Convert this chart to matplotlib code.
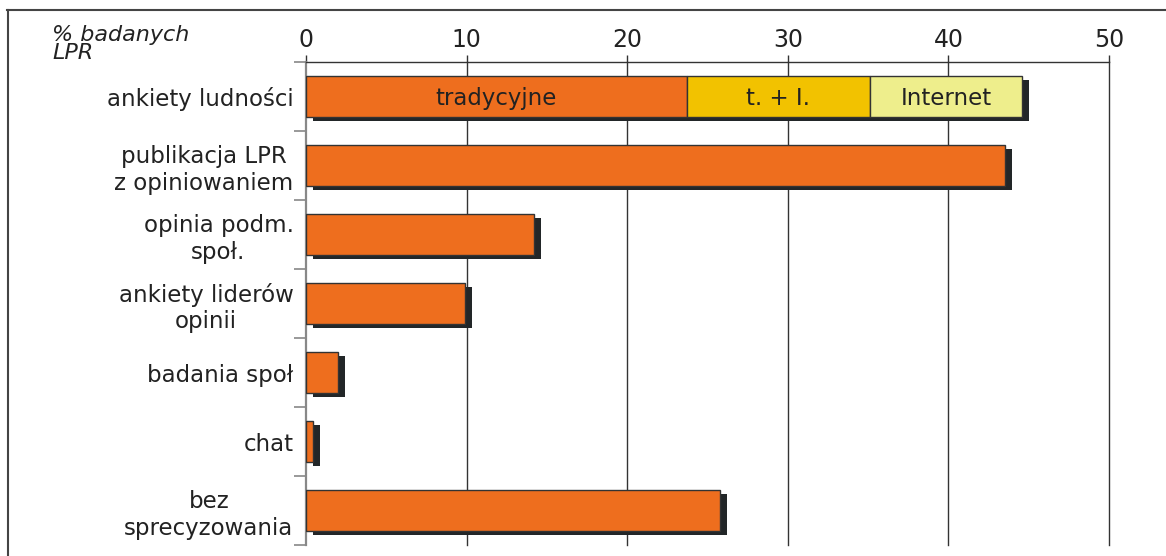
import matplotlib
matplotlib.use("Agg")
import matplotlib.pyplot as plt
from matplotlib.lines import Line2D
from matplotlib.transforms import ScaledTranslation

# Data: share of surveyed LPR (%) by method of public consultation
categories = [
    "ankiety ludności",
    "publikacja LPR\nz opiniowaniem",
    "opinia podm.\nspoł.",
    "ankiety liderów\nopinii",
    "badania społ",
    "chat",
    "bez\nsprecyzowania",
]
totals = [44.6, 43.5, 14.2, 9.9, 2.0, 0.45, 25.8]

# Breakdown of the first category (population surveys)
segment_labels = ["tradycyjne", "t. + I.", "Internet"]
segment_values = [23.7, 11.4, 9.5]
segment_colors = ["#EE6E1E", "#F2C200", "#EEEE8C"]

x_ticks = [0, 10, 20, 30, 40, 50]
y_axis_title = "% badanych\nLPR"

orange = "#EE6E1E"
shadow = "#222628"
text_color = "#222222"
FONT = "DejaVu Sans"

fig = plt.figure(figsize=(11.66, 5.56), dpi=100)
ax = fig.add_axes([306 / 1166, 1 - 545 / 556, (1109 - 306) / 1166, (545 - 62) / 556])

rows = list(range(len(categories)))
bar_h = 0.58
shift = ax.transData + ScaledTranslation(7 / 100, -4 / 100, fig.dpi_scale_trans)

# Drop shadows behind each bar
ax.barh(rows, totals, height=bar_h, color=shadow, linewidth=0,
        transform=shift, zorder=2)

# Plain bars for all but the first category
ax.barh(rows[1:], totals[1:], height=bar_h, color=orange,
        edgecolor="#333333", linewidth=1, zorder=3)

# Stacked segments for the first category
left = 0
for lab, val, col in zip(segment_labels, segment_values, segment_colors):
    ax.barh(rows[0], val, left=left, height=bar_h, color=col,
            edgecolor="#333333", linewidth=1, zorder=3)
    ax.text(left + val / 2, rows[0] + 0.03, lab, ha="center", va="center",
            fontsize=16.5, color=text_color, family=FONT, zorder=4)
    left += val

ax.set_xlim(0, 50)
ax.set_ylim(len(categories) - 0.5, -0.5)

# Axis on top
ax.xaxis.tick_top()
ax.set_xticks(x_ticks)
ax.set_xticklabels([str(t) for t in x_ticks], fontsize=17, color=text_color,
                   family=FONT)
ax.tick_params(axis="x", length=5, width=1, color="#333333", pad=2)

# Category labels and boundary ticks on the left
ax.set_yticks(rows)
ax.set_yticklabels(categories, fontsize=16.5, color=text_color, family=FONT,
                   multialignment="center", linespacing=1.2)
ax.tick_params(axis="y", length=0, pad=9)
ax.set_yticks([r - 0.5 for r in rows] + [rows[-1] + 0.5], minor=True)
ax.tick_params(axis="y", which="minor", length=9, width=1.2, color="#888888")

# Vertical grid lines
for t in x_ticks[1:]:
    ax.axvline(t, color="#333333", linewidth=1, zorder=1, clip_on=False)

for s in ["right", "bottom"]:
    ax.spines[s].set_visible(False)
ax.spines["left"].set_color("#888888")
ax.spines["left"].set_linewidth(1.6)
ax.spines["top"].set_color("#333333")
ax.spines["top"].set_linewidth(1)

# Unit title in the upper-left corner
fig.text(52 / 1166, 1 - 25 / 556, y_axis_title, fontsize=16, style="italic",
         color=text_color, family=FONT, ha="left", va="top", linespacing=0.85)

# Frame lines along the top and left edges
fig.add_artist(Line2D([7 / 1166, 1], [1 - 9.5 / 556, 1 - 9.5 / 556],
                      transform=fig.transFigure, color="#444444", linewidth=1.5))
fig.add_artist(Line2D([8 / 1166, 8 / 1166], [0, 1 - 9.5 / 556],
                      transform=fig.transFigure, color="#444444", linewidth=1.5))

fig.savefig("out.png", dpi=100)
